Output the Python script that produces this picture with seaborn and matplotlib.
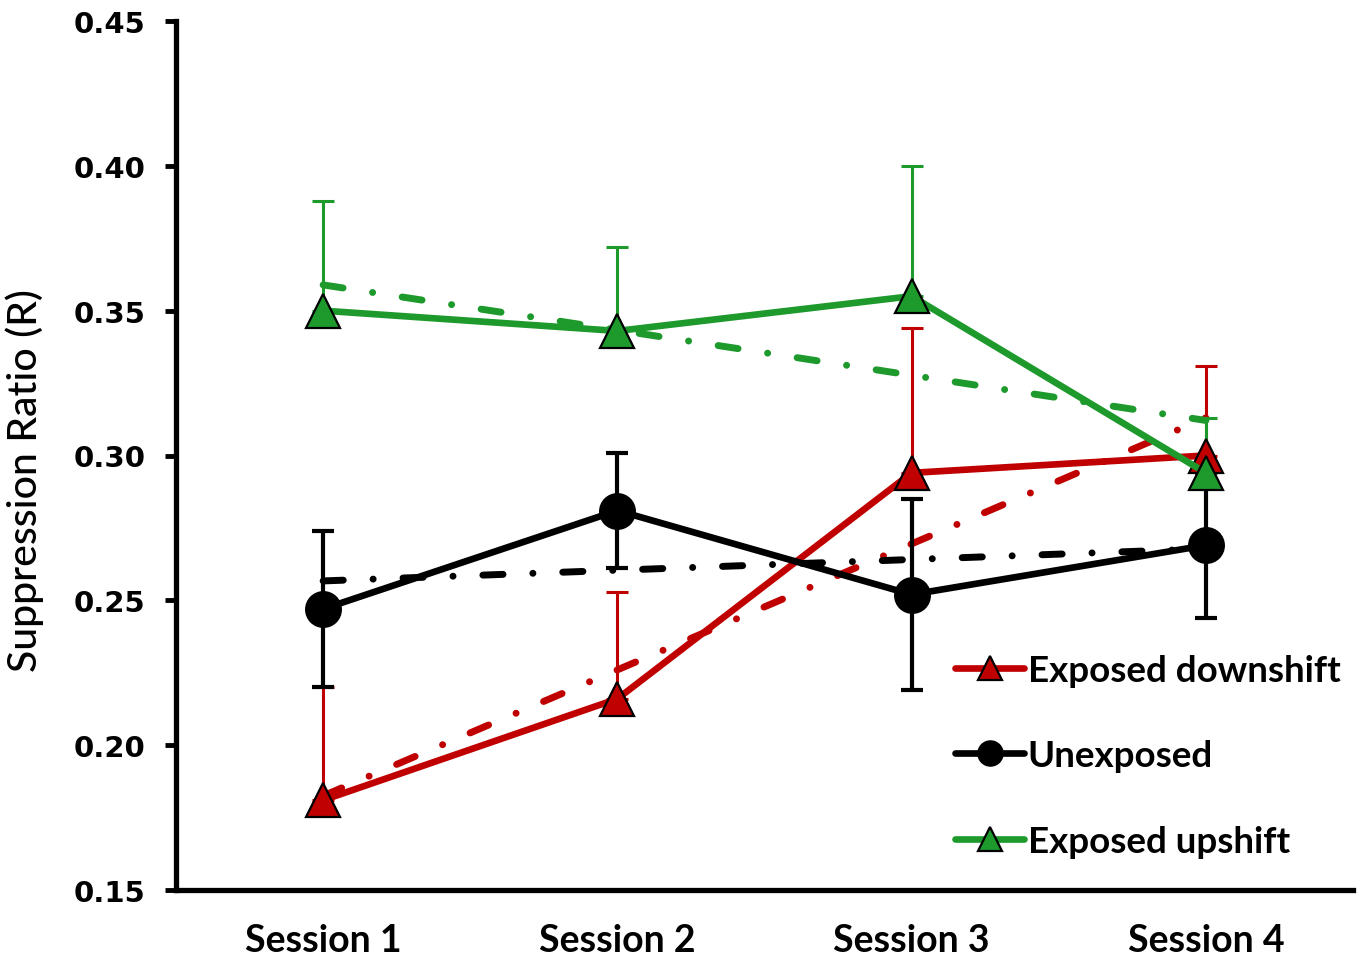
import numpy as np
import matplotlib
matplotlib.use("Agg")
import matplotlib.pyplot as plt
import seaborn as sns

sessions = ["Session 1", "Session 2", "Session 3", "Session 4"]

down_mean = [0.181, 0.216, 0.294, 0.300]
down_sem = [0.039, 0.037, 0.050, 0.031]

unexp_mean = [0.247, 0.281, 0.252, 0.269]
unexp_sem = [0.027, 0.020, 0.033, 0.025]

up_mean = [0.350, 0.343, 0.355, 0.294]
up_sem = [0.038, 0.029, 0.045, 0.019]

RED = "#C00000"
GREEN = "#1E9A2C"
BLACK = "#000000"

sns.set_theme(style="white")
plt.rcParams["font.family"] = ["DejaVu Sans"]

fig = plt.figure(figsize=(13.6, 9.62), dpi=100)
ax = fig.add_axes([176 / 1360, 1 - 891 / 962, (1353 - 176) / 1360, (891 - 22) / 962])

x = np.arange(len(sessions))
label_font = ["Lato", "DejaVu Sans"]

series = [
    ("Exposed downshift", down_mean, down_sem, RED, "^", "upper"),
    ("Unexposed", unexp_mean, unexp_sem, BLACK, "o", "both"),
    ("Exposed upshift", up_mean, up_sem, GREEN, "^", "upper"),
]

# linear trend lines (dash-dot)
for label, mean, sem, col, mk, side in series:
    sns.regplot(x=x, y=np.array(mean), ax=ax, scatter=False, ci=None,
                truncate=True,
                line_kws=dict(color=col, lw=5, dashes=(2.9, 4.3, 0.01, 4.3),
                              dash_capstyle="round", zorder=2))

# error bars
for label, mean, sem, col, mk, side in series:
    sem = np.array(sem)
    if side == "upper":
        yerr = np.vstack([np.zeros_like(sem), sem])
        elw = 2.2
    else:
        yerr = sem
        elw = 3
    ax.errorbar(x, mean, yerr=yerr, fmt="none", ecolor=col, elinewidth=elw,
                capsize=8, capthick=elw, zorder=3)

# means with markers
for label, mean, sem, col, mk, side in series:
    sns.lineplot(x=x, y=mean, ax=ax, color=col, lw=4.8, marker=mk,
                 markersize=25, markeredgecolor="black", markeredgewidth=1.6,
                 markerfacecolor=col, label=label, zorder=4)

ax.set_xlim(-0.5, 3.5)
ax.set_ylim(0.15, 0.45)
ax.set_yticks(np.arange(0.15, 0.451, 0.05))
ax.set_yticklabels([f"{v:.2f}" for v in np.arange(0.15, 0.451, 0.05)],
                   fontsize=21, fontweight="bold")
ax.set_xticks(x)
ax.set_xticklabels(sessions, fontsize=27, fontweight="bold", family=label_font)
ax.tick_params(axis="y", direction="out", length=8, width=3.5, pad=14,
               left=True, colors="black")
ax.tick_params(axis="x", length=0, pad=24, colors="black")

for side in ["top", "right"]:
    ax.spines[side].set_visible(False)
for side in ["left", "bottom"]:
    ax.spines[side].set_color("black")
    ax.spines[side].set_linewidth(3.8)

ax.set_xlabel("")
ax.set_ylabel("Suppression Ratio (R)", fontsize=29.5, family=label_font,
              fontweight="medium", color="black")
ax.yaxis.set_label_coords(-0.112, 0.472)

leg = ax.legend(loc="upper left", bbox_to_anchor=(955 / 1360, 1 - 655 / 962),
                bbox_transform=fig.transFigure, frameon=False,
                prop=dict(family=label_font, weight="bold", size=26.5),
                handlelength=1.88, handletextpad=0.1, labelspacing=1.42,
                borderpad=0, borderaxespad=0, markerscale=0.7)
for t in leg.get_texts():
    t.set_color("black")

fig.savefig("out.png", dpi=100, facecolor="white")
